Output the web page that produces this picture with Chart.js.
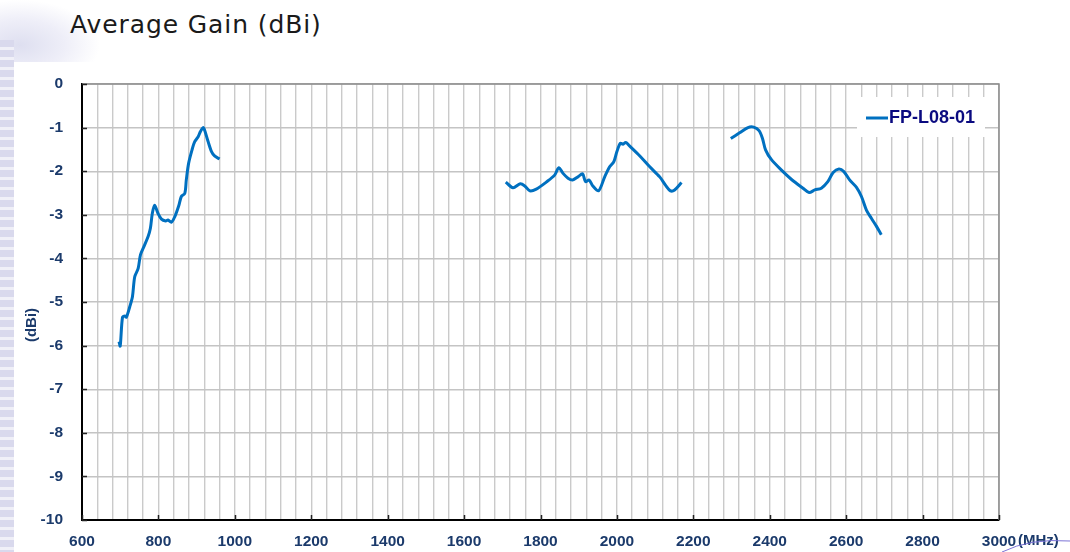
<!DOCTYPE html>
<html>
<head>
<meta charset="utf-8">
<script src="https://cdn.jsdelivr.net/npm/chart.js@4.4.1/dist/chart.umd.min.js"></script>
<style>
  body { margin: 0; width: 1070px; height: 552px; overflow: hidden; position: relative; background: #fff; }
  #strip { position: absolute; left: 0; top: 40px; width: 14px; height: 512px;
    background: repeating-linear-gradient(to bottom, #d9d9ed 0 7px, #f0f0f8 7px 10px); }
  #corner { position: absolute; left: 0; top: 0; width: 130px; height: 62px;
    background: radial-gradient(ellipse 80px 45px at 20px 45px, #dedff0 0%, #eeeef8 55%, rgba(255,255,255,0) 100%); }
  #title { position: absolute; left: 70px; top: 10px; font: 25px "DejaVu Sans", Verdana, sans-serif;
    letter-spacing: 0.9px; line-height: 29px; color: #1a1a1a; }
  canvas { position: absolute; left: 0; top: 0; }
</style>
</head>
<body>
<div id="corner"></div>
<div id="strip"></div>
<div id="title">Average Gain (dBi)</div>
<canvas id="gainChart" width="1070" height="552"></canvas>
<script>
// Valeurs (MHz / dBi)
const lowBandMHz = [697, 700, 706, 712, 716, 725, 732, 738, 747, 753, 762, 773, 779, 784, 790, 799, 808, 819, 825, 834,
  843, 853, 860, 869, 873, 879, 889, 895, 904, 910, 917, 921, 930, 939, 947, 960];
const lowBandGain = [-5.91, -6.01, -5.35, -5.32, -5.35, -5.11, -4.88, -4.42, -4.23, -3.92, -3.73, -3.50, -3.31, -2.97, -2.78, -2.97, -3.10, -3.14, -3.12, -3.17,
  -3.04, -2.80, -2.58, -2.51, -2.20, -1.82, -1.48, -1.32, -1.21, -1.09, -1.00, -1.06, -1.32, -1.55, -1.65, -1.72];

const midBandMHz = [1709, 1728, 1747, 1759, 1772, 1789, 1815, 1837, 1848, 1859, 1872, 1884, 1898, 1910, 1918, 1927, 1937, 1952, 1968, 1981,
  1992, 2000, 2009, 2016, 2023, 2033, 2060, 2086, 2112, 2128, 2140, 2151, 2169];
const midBandGain = [-2.25, -2.38, -2.29, -2.34, -2.45, -2.41, -2.25, -2.09, -1.92, -2.05, -2.16, -2.20, -2.13, -2.06, -2.24, -2.20, -2.34, -2.45, -2.13, -1.90,
  -1.78, -1.55, -1.36, -1.38, -1.34, -1.42, -1.65, -1.90, -2.13, -2.33, -2.45, -2.43, -2.26];

const highBandMHz = [2298, 2321, 2343, 2358, 2372, 2381, 2389, 2404, 2430, 2457, 2487, 2503, 2518, 2535, 2552, 2566, 2581, 2594, 2609, 2627,
  2640, 2653, 2666, 2679, 2692];
const highBandGain = [-1.25, -1.12, -1.00, -0.99, -1.07, -1.25, -1.51, -1.73, -1.97, -2.19, -2.39, -2.49, -2.43, -2.39, -2.24, -2.03, -1.95, -2.01, -2.20, -2.37,
  -2.58, -2.89, -3.08, -3.26, -3.46];

const seriesName = 'FP-L08-01';
const xLabels = [600, 800, 1000, 1200, 1400, 1600, 1800, 2000, 2200, 2400, 2600, 2800, 3000];
const yLabels = [0, -1, -2, -3, -4, -5, -6, -7, -8, -9, -10];
const gridStepMHz = 40;

const lineBlue = '#0070c0';
const navy = '#1b3a6b';
const tickFont = { family: '"Liberation Sans", Arial, sans-serif', size: 15.5, weight: 'bold' };

function toPoints(xs, ys) {
  return xs.map((x, i) => ({ x: x, y: ys[i] }));
}

function band(xs, ys) {
  return {
    label: seriesName,
    data: toPoints(xs, ys),
    borderColor: lineBlue,
    backgroundColor: lineBlue,
    borderWidth: 3,
    pointRadius: 0,
    tension: 0.3,
    fill: false
  };
}

// cadre, petites graduations, légende, titre Y et unité
const decorPlugin = {
  id: 'decor',
  afterDraw(chart) {
    const { ctx, chartArea: a, scales: { x, y } } = chart;
    ctx.save();
    ctx.strokeStyle = '#8c8c8c';
    ctx.lineWidth = 1.5;
    ctx.beginPath();
    ctx.moveTo(a.left, a.top);
    ctx.lineTo(a.right, a.top);
    ctx.lineTo(a.right, a.bottom);
    ctx.stroke();

    ctx.strokeStyle = '#222';
    ctx.lineWidth = 1.5;
    ctx.beginPath();
    yLabels.forEach(v => {
      const py = Math.round(y.getPixelForValue(v)) + 0.5;
      ctx.moveTo(a.left, py);
      ctx.lineTo(a.left + 5, py);
    });
    xLabels.forEach(v => {
      const px = Math.round(x.getPixelForValue(v)) + 0.5;
      ctx.moveTo(px, a.bottom);
      ctx.lineTo(px, a.bottom - 5);
    });
    ctx.stroke();

    // légende
    ctx.fillStyle = '#fff';
    ctx.fillRect(857, 97, 128, 40);
    ctx.strokeStyle = lineBlue;
    ctx.lineWidth = 3;
    ctx.beginPath();
    ctx.moveTo(866, 118);
    ctx.lineTo(888, 118);
    ctx.stroke();
    ctx.fillStyle = '#0a0a80';
    ctx.font = 'bold 18px "Liberation Sans", Arial, sans-serif';
    ctx.textBaseline = 'middle';
    ctx.fillText(seriesName, 889, 118);

    // titre de l'axe Y
    ctx.save();
    ctx.translate(32, 325);
    ctx.rotate(-Math.PI / 2);
    ctx.fillStyle = navy;
    ctx.font = 'bold 15px "Liberation Sans", Arial, sans-serif';
    ctx.textAlign = 'center';
    ctx.fillText('(dBi)', 0, 0);
    ctx.restore();

    // unité de l'axe X
    ctx.fillStyle = navy;
    ctx.font = 'bold 15px "Liberation Sans", Arial, sans-serif';
    ctx.textAlign = 'left';
    ctx.fillText('(MHz)', 1018, 541);
    ctx.strokeStyle = '#7d74d6';
    ctx.lineWidth = 1;
    ctx.beginPath();
    ctx.moveTo(1002, 552);
    ctx.quadraticCurveTo(1030, 538, 1070, 541);
    ctx.stroke();
    ctx.restore();
  }
};

const ctx = document.getElementById('gainChart').getContext('2d');
const gainChart = new Chart(ctx, {
  type: 'line',
  data: {
    datasets: [
      band(lowBandMHz, lowBandGain),
      band(midBandMHz, midBandGain),
      band(highBandMHz, highBandGain)
    ]
  },
  options: {
    responsive: false,
    animation: false,
    layout: { padding: { left: 0, top: 84, right: 71, bottom: 0 } },
    plugins: {
      legend: { display: false },
      tooltip: { enabled: false }
    },
    scales: {
      x: {
        type: 'linear',
        min: 600,
        max: 3000,
        afterBuildTicks: scale => {
          const t = [];
          for (let v = 600; v <= 3000; v += gridStepMHz) t.push({ value: v });
          scale.ticks = t;
        },
        afterFit: scale => { scale.height = 32; },
        ticks: {
          autoSkip: false,
          maxRotation: 0,
          padding: 12,
          color: navy,
          font: tickFont,
          callback: v => xLabels.includes(v) ? String(v) : ''
        },
        grid: { color: '#cacaca', lineWidth: 1.4, drawTicks: false },
        border: { color: '#000', width: 2 }
      },
      y: {
        min: -10,
        max: 0,
        afterBuildTicks: scale => { scale.ticks = yLabels.map(v => ({ value: v })); },
        afterFit: scale => { scale.width = 82; },
        ticks: { padding: 19, color: navy, font: tickFont },
        grid: { color: '#c4c4c4', lineWidth: 1.4, drawTicks: false },
        border: { color: '#000', width: 2 }
      }
    }
  },
  plugins: [decorPlugin]
});
</script>
</body>
</html>
